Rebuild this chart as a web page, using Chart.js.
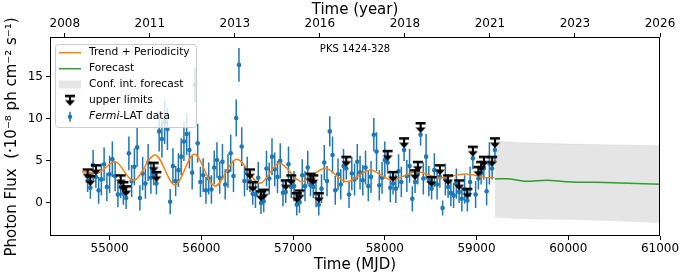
<!DOCTYPE html>
<html><head><meta charset="utf-8">
<script src="https://cdn.jsdelivr.net/npm/chart.js@4.4.1/dist/chart.umd.min.js"></script>
<style>html,body{margin:0;padding:0;background:#fff;}#c{display:block;}</style>
</head><body>
<canvas id="c" width="687" height="278"></canvas>
<script>
// ---- data ----
const mjd = [54760,54790,54820,54850,54880,54910,54940,54970,55000,55030,
55060,55090,55120,55150,55180,55210,55240,55270,55300,55330,
55360,55390,55420,55450,55480,55510,55540,55570,55600,55630,
55660,55690,55720,55750,55780,55810,55840,55870,55900,55930,
55960,55990,56020,56050,56080,56110,56140,56170,56200,56230,
56260,56290,56320,56350,56380,56410,56440,56470,56500,56530,
56560,56590,56620,56650,56680,56710,56740,56770,56800,56830,
56860,56890,56920,56950,56980,57010,57040,57070,57100,57130,
57160,57190,57220,57250,57280,57310,57340,57370,57400,57430,
57460,57490,57520,57550,57580,57610,57640,57670,57700,57730,
57760,57790,57820,57850,57880,57910,57940,57970,58000,58030,
58060,58090,58120,58150,58180,58210,58240,58270,58300,58330,
58360,58390,58420,58450,58480,58510,58540,58570,58600,58630,
58660,58690,58720,58750,58780,58810,58840,58870,58900,58930,
58960,58990,59020,59050,59080,59110,59140,59170,59200];
const flux = [2.6,1.8,4.5,3.1,1.5,2.8,4.6,1.9,3.4,5.2,
3.2,1.0,1.9,1.1,0.6,5.9,2.6,4.3,6.6,0.6,
3.5,2.3,4.8,3.0,3.4,2.3,8.5,7.6,9.6,8.8,
0.15,4.4,2.6,3.9,5.5,7.3,8.2,6.3,3.6,14.0,
7.1,2.5,3.3,1.5,2.9,1.6,4.2,5.1,3.0,4.9,
2.2,3.8,5.9,3.2,10.1,16.4,6.7,2.6,3.5,2.6,
1.1,1.0,3.0,0.0,0.2,4.1,2.9,5.5,4.0,3.1,
5.0,1.2,1.3,4.6,1.9,2.0,-0.2,0.1,3.3,2.0,
4.2,2.1,1.9,1.1,-0.2,1.7,4.8,2.6,8.5,5.7,
1.5,3.4,2.2,4.4,4.1,1.0,3.5,2.8,4.9,3.6,
2.7,4.2,2.0,3.1,8.1,6.1,2.1,3.0,5.1,4.8,
1.8,2.3,1.7,3.8,2.5,6.3,3.2,4.4,0.5,2.5,
3.5,8.1,2.9,5.5,2.6,1.7,3.9,2.2,3.1,-0.6,
2.8,1.9,1.2,0.9,2.3,1.3,0.5,1.6,0.3,2.5,
5.3,1.0,2.9,3.5,4.1,1.4,4.7,4.1,6.3];
const fluxErr = [1.3,1.3,1.8,1.3,1.6,1.9,2.0,1.7,2.2,2.1,
1.8,1.5,1.3,1.3,1.3,2.0,1.9,2.2,2.3,1.5,
2.0,1.8,2.2,1.9,1.3,1.3,2.4,2.2,2.6,2.5,
1.5,2.1,1.8,2.0,2.2,2.3,2.5,2.2,2.0,2.0,
2.3,1.8,2.0,1.6,1.9,1.7,2.0,2.1,1.9,2.1,
1.8,2.0,2.2,1.9,2.2,2.0,2.3,1.8,2.0,1.3,
1.3,1.6,1.9,1.3,1.3,2.1,1.9,2.2,2.0,1.9,
2.1,1.6,1.3,2.1,1.3,1.8,1.3,1.3,1.9,1.8,
2.0,1.3,1.3,1.6,1.3,1.7,2.1,1.8,1.8,2.2,
1.7,1.9,1.8,2.0,1.3,1.6,2.0,1.9,2.1,2.0,
1.8,2.0,1.8,1.9,2.0,2.3,1.8,1.9,2.2,1.3,
1.7,1.3,1.7,2.0,1.8,1.3,1.9,2.0,1.5,1.3,
1.3,1.3,1.9,2.7,1.8,1.3,2.0,1.8,1.3,0.9,
1.9,1.3,1.6,1.5,1.8,1.3,1.5,1.7,1.3,1.8,
1.3,1.6,1.3,1.3,1.3,1.7,2.5,1.3,1.3];
const ulMjd = [54760,54790,54850,55120,55150,55180,55480,55510,56530,56560,56650,56680,
56920,56980,57040,57070,57190,57220,57280,57580,58030,58090,58210,58330,58360,58390,
58510,58600,58690,58810,58900,58960,59020,59050,59080,59170,59200];
const ulFlux = [4.0,3.2,4.5,3.3,2.5,2.0,4.8,3.7,4.0,2.5,1.4,1.6,
2.7,3.3,1.2,1.5,3.5,3.3,1.2,5.5,6.2,3.7,7.7,3.9,4.9,9.5,
3.1,4.5,3.3,2.7,1.7,6.7,4.3,4.9,5.5,5.5,7.7];
const trendMjd = [54700,54859,55058,55258,55495,55713,55923,56149,56385,56639,56849,57094,57348,57584,57838,58075,58347,58601,58874,59146,59195];
const trendFlux = [3.72,3.52,4.9,2.65,5.7,2.14,5.78,2.0,5.19,2.34,4.71,2.53,4.12,2.53,3.92,2.73,3.72,2.97,3.44,3.0,3.03];
const fcMjd = [59200,59328,59546,59764,59982,60487,61000];
const fcFlux = [2.85,2.89,2.58,2.7,2.53,2.41,2.22];
const bandMjd = [59200,59470,60000,60500,61000];
const bandHi = [7.36,7.16,7.0,6.9,6.8];
const bandLo = [-1.7,-1.86,-1.95,-2.1,-2.34];
const xTicks = [55000,56000,57000,58000,59000,60000,61000];
const yTicks = [0,5,10,15];
const yearTickMjd = [54511,55438,56365,57292,58219,59146,60073,61000];
const yearLabels = ['2008','2011','2013','2016','2018','2021','2023','2026'];

const F = 'DejaVu Sans';
const BLUE='#1f77b4', ORANGE='#ff7f0e', GREEN='#2ca02c', BAND='#e5e5e5';

function makeUL(){
  const c=document.createElement('canvas'); c.width=14; c.height=24;
  const g=c.getContext('2d'); g.fillStyle='#000';
  g.fillRect(2,11,10,2.5);
  g.fillRect(6,12,2,6);
  g.beginPath(); g.moveTo(2,16.5); g.lineTo(12,16.5); g.lineTo(7,22); g.closePath(); g.fill();
  return c;
}
const ulImg = makeUL();
const pts=(xs,ys)=>xs.map((m,i)=>({x:m,y:ys[i]}));

const errPlugin={id:'err',beforeDatasetDraw(chart,args){
  if(chart.data.datasets[args.index].label!=='Fermi') return;
  const g=chart.ctx,xs=chart.scales.x,ys=chart.scales.y,a=chart.chartArea;
  g.save(); g.beginPath(); g.rect(a.left,a.top,a.right-a.left,a.bottom-a.top); g.clip();
  g.strokeStyle=BLUE; g.lineWidth=1.5; g.beginPath();
  for(let i=0;i<mjd.length;i++){const x=xs.getPixelForValue(mjd[i]);
    g.moveTo(x,ys.getPixelForValue(flux[i]-fluxErr[i])); g.lineTo(x,ys.getPixelForValue(flux[i]+fluxErr[i]));}
  g.stroke(); g.restore();
}};
const decoPlugin={id:'deco',afterDraw(chart){
  const g=chart.ctx,a=chart.chartArea;
  g.save();
  g.strokeStyle='#000'; g.lineWidth=1;
  g.strokeRect(Math.round(a.left)+0.5,Math.round(a.top)+0.5,Math.round(a.right-a.left)-1,Math.round(a.bottom-a.top)-1);
  g.fillStyle='#000'; g.font='15px "'+F+'"'; g.textAlign='center'; g.textBaseline='middle';
  g.save(); g.translate(12,137); g.rotate(-Math.PI/2);
  g.fillText('Photon Flux  (·10⁻⁸ ph cm⁻² s⁻¹)',0,0); g.restore();
  g.font='10px "'+F+'"'; g.fillText('PKS 1424-328',(a.left+a.right)/2,49);
  const bx=55.5,by=44.5,bw=141,bh=83,r=3;
  g.beginPath(); g.moveTo(bx+r,by); g.lineTo(bx+bw-r,by); g.arcTo(bx+bw,by,bx+bw,by+r,r);
  g.lineTo(bx+bw,by+bh-r); g.arcTo(bx+bw,by+bh,bx+bw-r,by+bh,r); g.lineTo(bx+r,by+bh);
  g.arcTo(bx,by+bh,bx,by+bh-r,r); g.lineTo(bx,by+r); g.arcTo(bx,by,bx+r,by,r); g.closePath();
  g.fillStyle='rgba(255,255,255,0.8)'; g.fill(); g.strokeStyle='#cccccc'; g.lineWidth=1; g.stroke();
  const ys=[52.7,68.7,84.5,100.7,116.7], hx0=59, hx1=81, tx=89;
  g.lineWidth=1.5;
  g.strokeStyle=ORANGE; g.beginPath(); g.moveTo(hx0,ys[0]); g.lineTo(hx1,ys[0]); g.stroke();
  g.strokeStyle=GREEN; g.beginPath(); g.moveTo(hx0,ys[1]); g.lineTo(hx1,ys[1]); g.stroke();
  g.fillStyle=BAND; g.fillRect(hx0,ys[2]-4,hx1-hx0,8);
  g.drawImage(ulImg,70-7,ys[3]-12-5);
  g.strokeStyle=BLUE; g.beginPath(); g.moveTo(70,ys[4]-5); g.lineTo(70,ys[4]+5); g.stroke();
  g.fillStyle=BLUE; g.beginPath(); g.arc(70,ys[4],2.2,0,Math.PI*2); g.fill();
  g.fillStyle='#000'; g.font='10.7px "'+F+'"'; g.textAlign='left'; g.textBaseline='middle';
  g.fillText('Trend + Periodicity',tx,ys[0]);
  g.fillText('Forecast',tx,ys[1]);
  g.fillText('Conf. int. forecast',tx,ys[2]);
  g.fillText('upper limits',tx,ys[3]);
  g.font='italic 10.7px "'+F+'"'; g.fillText('Fermi',tx,ys[4]);
  const w=g.measureText('Fermi').width;
  g.font='10.7px "'+F+'"'; g.fillText('-LAT data',tx+w,ys[4]);
  g.restore();
}};

const tickFont={family:F,size:12};
const gridOpt={drawOnChartArea:false,drawTicks:true,tickLength:4,color:'#000',lineWidth:1};
new Chart(document.getElementById('c'),{
  type:'scatter',
  data:{datasets:[
    {label:'bandHi',data:pts(bandMjd,bandHi),showLine:true,pointRadius:0,borderColor:'rgba(0,0,0,0.06)',borderWidth:1,backgroundColor:BAND,fill:'+1',order:10},
    {label:'bandLo',data:pts(bandMjd,bandLo),showLine:true,pointRadius:0,borderColor:'rgba(0,0,0,0.06)',borderWidth:1,fill:false,order:10},
    {label:'Fermi',data:pts(mjd,flux),pointRadius:2.3,pointBackgroundColor:BLUE,pointBorderWidth:0,order:8},
    {label:'trend',data:pts(trendMjd,trendFlux),showLine:true,pointRadius:0,borderColor:ORANGE,borderWidth:1.5,cubicInterpolationMode:'monotone',order:6},
    {label:'forecast',data:pts(fcMjd,fcFlux),showLine:true,pointRadius:0,borderColor:GREEN,borderWidth:1.5,cubicInterpolationMode:'monotone',order:6},
    {label:'UL',data:pts(ulMjd,ulFlux),pointStyle:ulImg,pointRadius:5,order:4}
  ]},
  options:{
    responsive:false,animation:false,devicePixelRatio:1,
    layout:{padding:{left:0,right:27,top:0,bottom:0}},
    plugins:{legend:{display:false},tooltip:{enabled:false}},
    events:[],
    scales:{
      x:{type:'linear',position:'bottom',min:54350,max:61000,
        afterBuildTicks:s=>{s.ticks=xTicks.map(v=>({value:v}));},
        afterFit:s=>{s.height=42;},
        grid:gridOpt,border:{display:false},
        ticks:{font:tickFont,color:'#000',padding:2,maxRotation:0,autoSkip:false,callback:v=>String(v)},
        title:{display:true,text:'Time (MJD)',font:{family:F,size:15},color:'#000',padding:{top:0,bottom:4}}},
      x2:{type:'linear',position:'top',min:54350,max:61000,
        afterBuildTicks:s=>{s.ticks=yearTickMjd.map(v=>({value:v}));},
        afterFit:s=>{s.height=37;},
        grid:gridOpt,border:{display:false},
        ticks:{font:tickFont,color:'#000',padding:2,maxRotation:0,autoSkip:false,callback:(v,i)=>yearLabels[i]},
        title:{display:true,text:'Time (year)',font:{family:F,size:15},color:'#000',padding:{top:1,bottom:0}}},
      y:{type:'linear',position:'left',min:-3.92,max:19.71,
        afterBuildTicks:s=>{s.ticks=yTicks.map(v=>({value:v}));},
        afterFit:s=>{s.width=50;},
        grid:gridOpt,border:{display:false},
        ticks:{font:tickFont,color:'#000',padding:3,autoSkip:false,callback:v=>String(v)}}
    }
  },
  plugins:[errPlugin,decoPlugin]
});
</script>
</body></html>
